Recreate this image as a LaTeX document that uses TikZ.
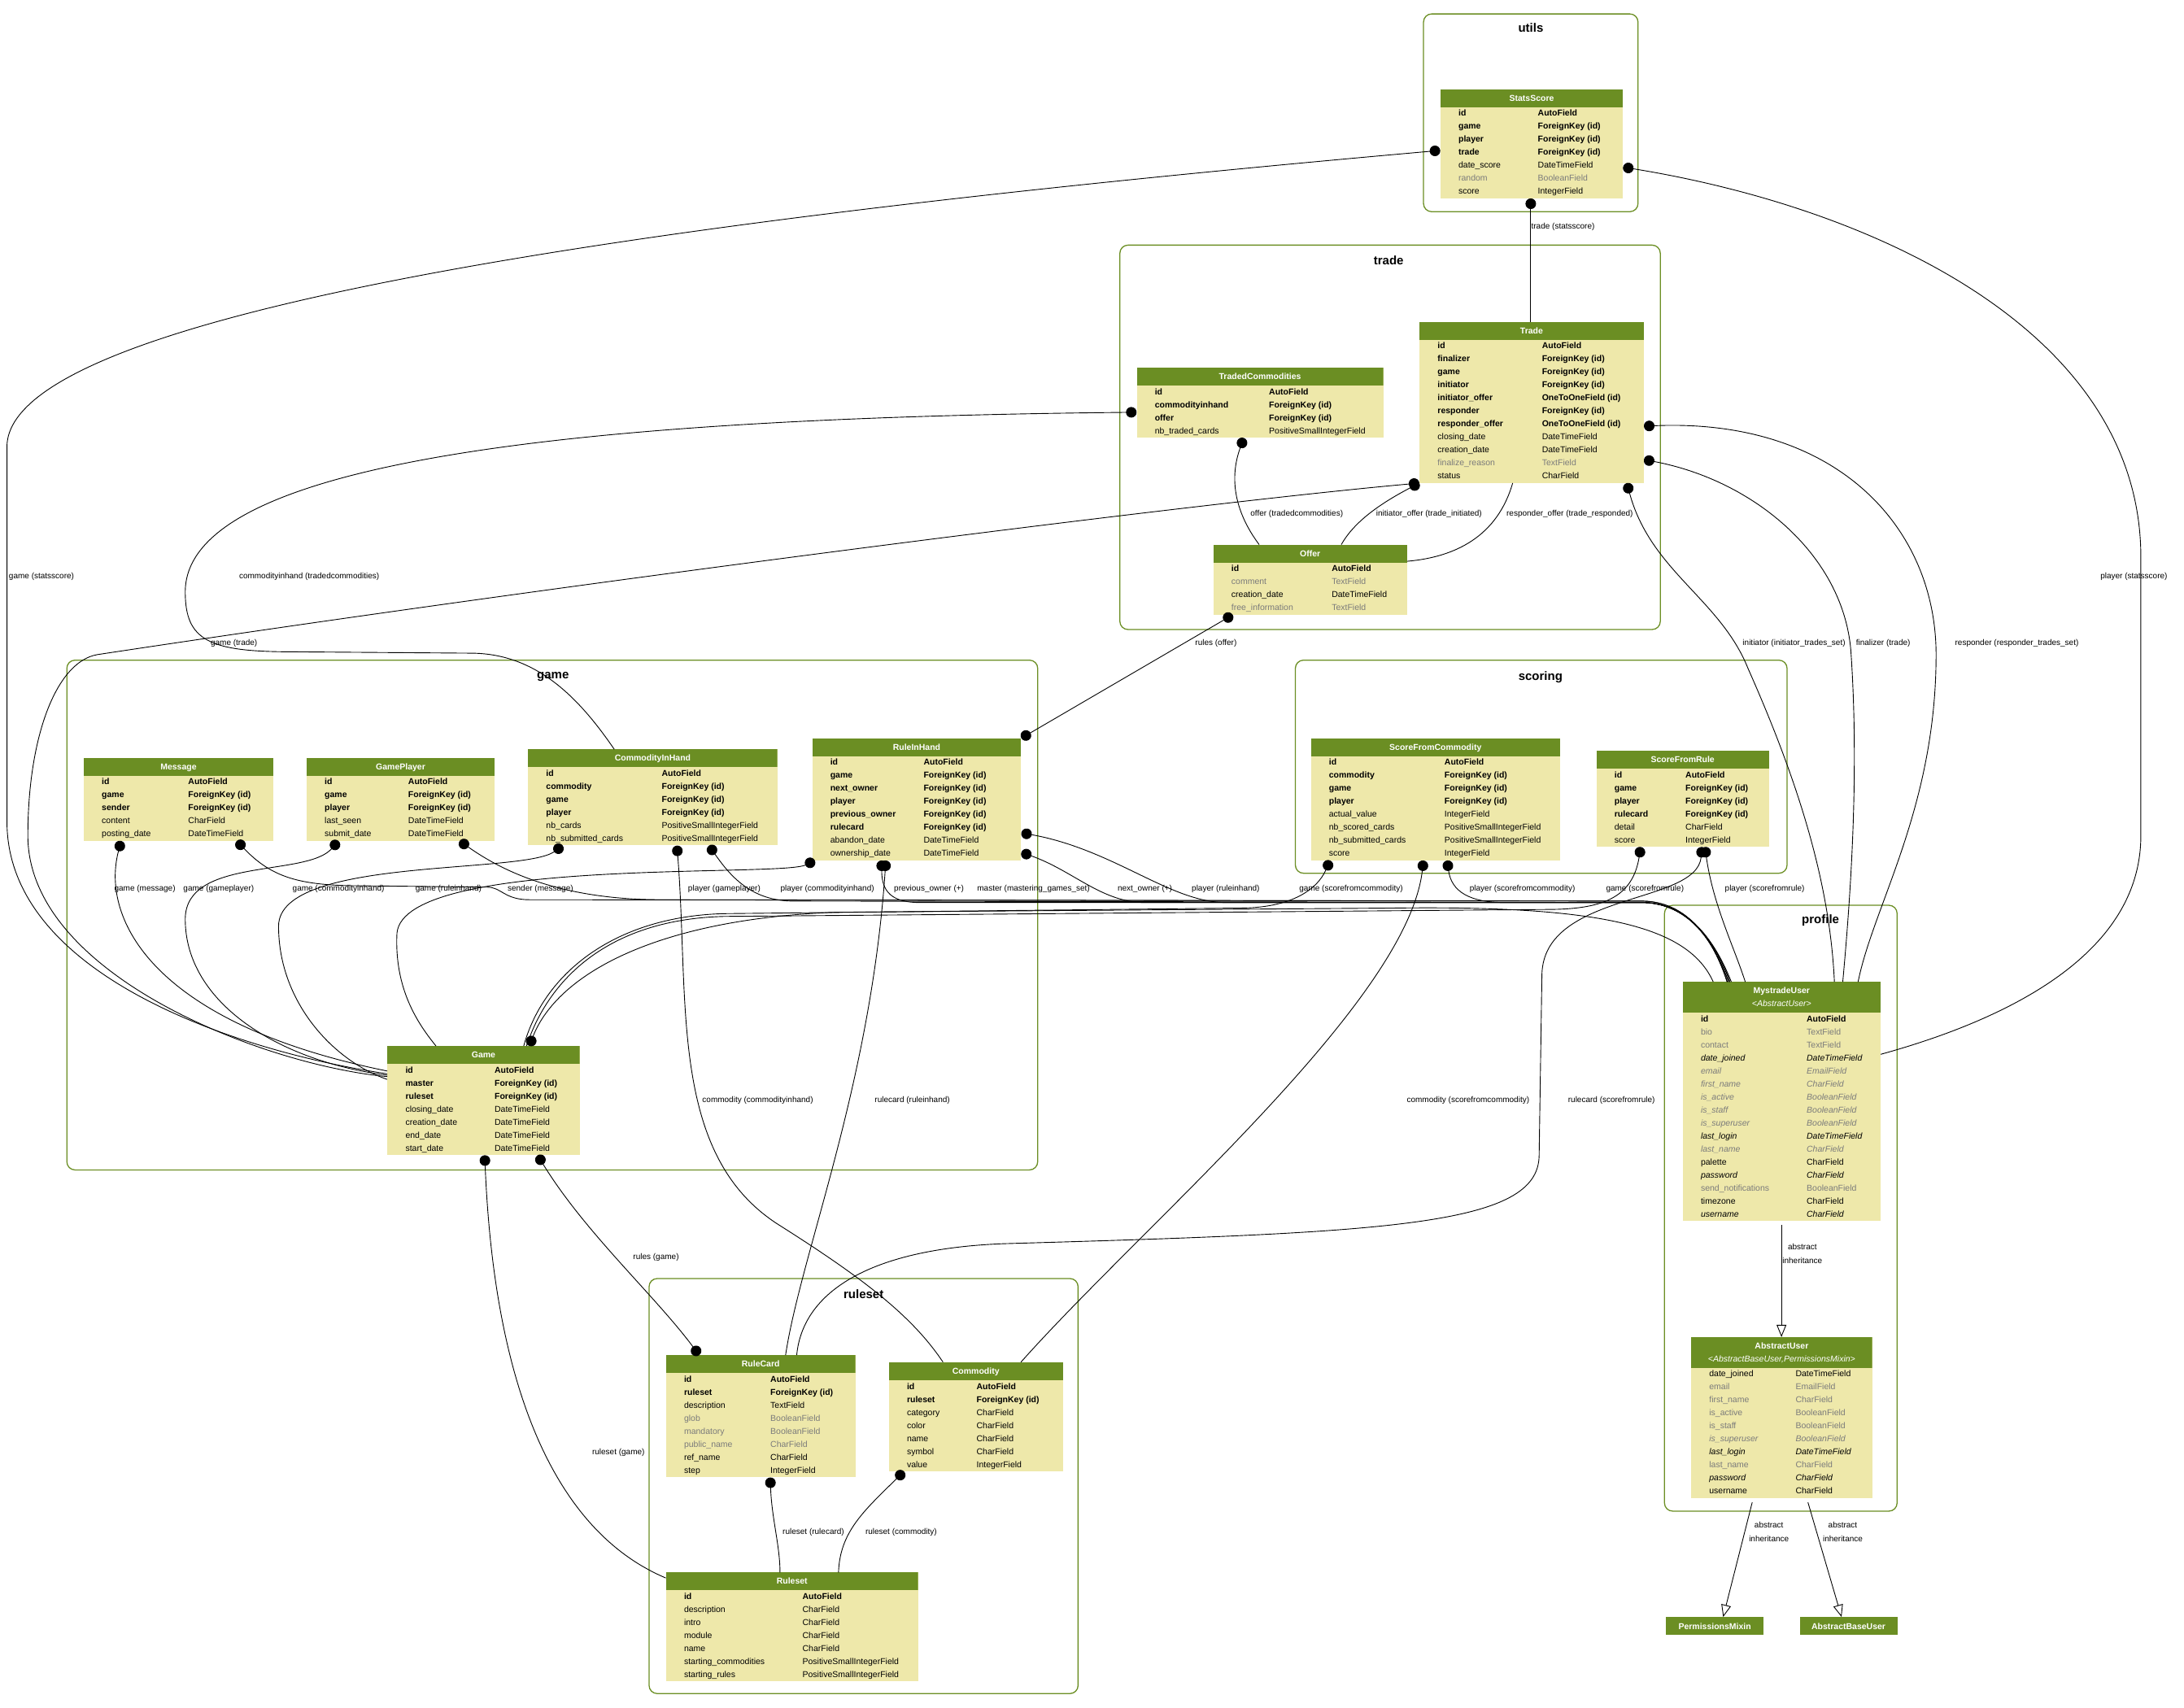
\documentclass[tikz,border=0pt]{standalone}
\usepackage{fontspec}
\setmainfont{Liberation Sans}
\usepackage{array}
\usetikzlibrary{arrows.meta,calc}

\definecolor{hdrgreen}{RGB}{107,142,35}
\definecolor{bodykhaki}{RGB}{238,232,170}
\definecolor{nullgray}{RGB}{123,123,123}

\newcommand{\rowk}[2]{\textbf{#1} & \textbf{#2}\\}
\newcommand{\rowf}[2]{#1 & #2\\}
\newcommand{\rowg}[2]{\textcolor{nullgray}{#1} & \textcolor{nullgray}{#2}\\}
\newcommand{\rowi}[2]{\textit{#1} & \textit{#2}\\}
\newcommand{\rowgi}[2]{\textcolor{nullgray}{\itshape #1} & \textcolor{nullgray}{\itshape #2}\\}
\newcommand{\modeltab}[4]{%
  \begin{tabular}{@{\hspace{22.3pt}}p{#1}@{}p{#2}@{}}
    \multicolumn{2}{@{}c@{}}{\rule[-7.6pt]{0pt}{22pt}\color{white}\bfseries #3}\\
    #4
  \end{tabular}}

\begin{document}
\begin{tikzpicture}[x=1.7124pt, y=-1.7124pt,
    model/.style={fill=bodykhaki, inner sep=0pt, anchor=north west,
      font=\fontsize{10.5}{16}\selectfont,
      path picture={\fill[hdrgreen] (path picture bounding box.north west)
        rectangle ([yshift=-#1]path picture bounding box.north east);}},
    model/.default=22pt,
    basebox/.style={fill=hdrgreen, text=white, inner sep=0pt, anchor=north west,
      minimum width=119.9pt, minimum height=22pt, font=\fontsize{10.5}{16}\selectfont\bfseries},
    cluster/.style={draw=hdrgreen, line width=1.3pt, rounded corners=10pt},
    clbl/.style={font=\fontsize{15}{18}\selectfont\bfseries},
    lbl/.style={font=\fontsize{10}{12}\selectfont, inner sep=0.5pt},
    ilbl/.style={lbl, align=center, font=\fontsize{10}{17}\selectfont},
    fkedge/.style={{Circle[length=13pt]}-, line width=0.9pt},
    mmedge/.style={{Circle[length=13pt]}-{Circle[length=13pt]}, line width=0.9pt},
    plainedge/.style={line width=0.9pt},
    inhedge/.style={-{Triangle[open,length=15pt,width=12pt]}, line width=0.9pt}
]
    \fill[white, use as bounding box] (0,0) rectangle (1568,1226);

    % app clusters
    \draw[cluster] (1022,10) rectangle (1176,152);
    \draw[cluster] (804,176) rectangle (1192,452);
    \draw[cluster] (48,474) rectangle (745,840);
    \draw[cluster] (930,474) rectangle (1283,627);
    \draw[cluster] (1195,650) rectangle (1362,1085);
    \draw[cluster] (466,918) rectangle (774,1216);
    \node[clbl] (c-utils) at (1099,20) {utils};
    \node[clbl] (c-trade) at (997,187) {trade};
    \node[clbl] (c-game) at (397,486) {game};
    \node[clbl] (c-scoring) at (1106,486) {scoring};
    \node[clbl] (c-profile) at (1307,661) {profile};
    \node[clbl] (c-ruleset) at (620,929) {ruleset};

    % models
    \node[model] (statsscore) at (1034,64) {\modeltab{97.6pt}{104.5pt}{StatsScore}{
        \rowk{id}{AutoField}
        \rowk{game}{ForeignKey (id)}
        \rowk{player}{ForeignKey (id)}
        \rowk{trade}{ForeignKey (id)}
        \rowf{date\_score}{DateTimeField}
        \rowg{random}{BooleanField}
        \rowf{score}{IntegerField}}};
    \node[model] (trade) at (1019,231) {\modeltab{128.4pt}{125pt}{Trade}{
        \rowk{id}{AutoField}
        \rowk{finalizer}{ForeignKey (id)}
        \rowk{game}{ForeignKey (id)}
        \rowk{initiator}{ForeignKey (id)}
        \rowk{initiator\_offer}{OneToOneField (id)}
        \rowk{responder}{ForeignKey (id)}
        \rowk{responder\_offer}{OneToOneField (id)}
        \rowf{closing\_date}{DateTimeField}
        \rowf{creation\_date}{DateTimeField}
        \rowg{finalize\_reason}{TextField}
        \rowf{status}{CharField}}};
    \node[model] (tradedcommodities) at (816,264) {\modeltab{140.4pt}{140.4pt}{TradedCommodities}{
        \rowk{id}{AutoField}
        \rowk{commodityinhand}{ForeignKey (id)}
        \rowk{offer}{ForeignKey (id)}
        \rowf{nb\_traded\_cards}{PositiveSmallIntegerField}}};
    \node[model] (offer) at (871,391) {\modeltab{123.3pt}{92.5pt}{Offer}{
        \rowk{id}{AutoField}
        \rowg{comment}{TextField}
        \rowf{creation\_date}{DateTimeField}
        \rowg{free\_information}{TextField}}};
    \node[model] (message) at (60,544) {\modeltab{106.2pt}{104.5pt}{Message}{
        \rowk{id}{AutoField}
        \rowk{game}{ForeignKey (id)}
        \rowk{sender}{ForeignKey (id)}
        \rowf{content}{CharField}
        \rowf{posting\_date}{DateTimeField}}};
    \node[model] (gameplayer) at (220,544) {\modeltab{102.7pt}{106.2pt}{GamePlayer}{
        \rowk{id}{AutoField}
        \rowk{game}{ForeignKey (id)}
        \rowk{player}{ForeignKey (id)}
        \rowf{last\_seen}{DateTimeField}
        \rowf{submit\_date}{DateTimeField}}};
    \node[model] (commodityinhand) at (379,538) {\modeltab{142.1pt}{142.1pt}{CommodityInHand}{
        \rowk{id}{AutoField}
        \rowk{commodity}{ForeignKey (id)}
        \rowk{game}{ForeignKey (id)}
        \rowk{player}{ForeignKey (id)}
        \rowf{nb\_cards}{PositiveSmallIntegerField}
        \rowf{nb\_submitted\_cards}{PositiveSmallIntegerField}}};
    \node[model] (ruleinhand) at (583,530) {\modeltab{114.7pt}{119.9pt}{RuleInHand}{
        \rowk{id}{AutoField}
        \rowk{game}{ForeignKey (id)}
        \rowk{next\_owner}{ForeignKey (id)}
        \rowk{player}{ForeignKey (id)}
        \rowk{previous\_owner}{ForeignKey (id)}
        \rowk{rulecard}{ForeignKey (id)}
        \rowf{abandon\_date}{DateTimeField}
        \rowf{ownership\_date}{DateTimeField}}};
    \node[model] (game) at (278,751) {\modeltab{109.6pt}{104.5pt}{Game}{
        \rowk{id}{AutoField}
        \rowk{master}{ForeignKey (id)}
        \rowk{ruleset}{ForeignKey (id)}
        \rowf{closing\_date}{DateTimeField}
        \rowf{creation\_date}{DateTimeField}
        \rowf{end\_date}{DateTimeField}
        \rowf{start\_date}{DateTimeField}}};
    \node[model] (scorefromcommodity) at (941,530) {\modeltab{142.1pt}{142.1pt}{ScoreFromCommodity}{
        \rowk{id}{AutoField}
        \rowk{commodity}{ForeignKey (id)}
        \rowk{game}{ForeignKey (id)}
        \rowk{player}{ForeignKey (id)}
        \rowf{actual\_value}{IntegerField}
        \rowf{nb\_scored\_cards}{PositiveSmallIntegerField}
        \rowf{nb\_submitted\_cards}{PositiveSmallIntegerField}
        \rowf{score}{IntegerField}}};
    \node[model] (scorefromrule) at (1146,539) {\modeltab{87.3pt}{102.7pt}{ScoreFromRule}{
        \rowk{id}{AutoField}
        \rowk{game}{ForeignKey (id)}
        \rowk{player}{ForeignKey (id)}
        \rowk{rulecard}{ForeignKey (id)}
        \rowf{detail}{CharField}
        \rowf{score}{IntegerField}}};
    \node[model=37.7pt] (mystradeuser) at (1208,705) {\modeltab{130.1pt}{90.8pt}{%
        \rule[-16.2pt]{0pt}{37.7pt}\begin{tabular}[c]{@{}c@{}}MystradeUser\\ \mdseries\itshape <AbstractUser>\end{tabular}}{
        \rowk{id}{AutoField}
        \rowg{bio}{TextField}
        \rowg{contact}{TextField}
        \rowi{date\_joined}{DateTimeField}
        \rowgi{email}{EmailField}
        \rowgi{first\_name}{CharField}
        \rowgi{is\_active}{BooleanField}
        \rowgi{is\_staff}{BooleanField}
        \rowgi{is\_superuser}{BooleanField}
        \rowi{last\_login}{DateTimeField}
        \rowgi{last\_name}{CharField}
        \rowf{palette}{CharField}
        \rowi{password}{CharField}
        \rowg{send\_notifications}{BooleanField}
        \rowf{timezone}{CharField}
        \rowi{username}{CharField}}};
    \node[model=37.7pt] (abstractuser) at (1214,960) {\modeltab{106.2pt}{94.2pt}{%
        \rule[-16.2pt]{0pt}{37.7pt}\begin{tabular}[c]{@{}c@{}}AbstractUser\\ \mdseries\itshape <AbstractBaseUser,PermissionsMixin>\end{tabular}}{
        \rowf{date\_joined}{DateTimeField}
        \rowg{email}{EmailField}
        \rowg{first\_name}{CharField}
        \rowg{is\_active}{BooleanField}
        \rowg{is\_staff}{BooleanField}
        \rowgi{is\_superuser}{BooleanField}
        \rowi{last\_login}{DateTimeField}
        \rowg{last\_name}{CharField}
        \rowi{password}{CharField}
        \rowf{username}{CharField}}};
    \node[basebox] (permissionsmixin) at (1196,1161) {PermissionsMixin};
    \node[basebox] (abstractbaseuser) at (1292,1161) {AbstractBaseUser};
    \node[model] (rulecard) at (478,973) {\modeltab{106.2pt}{104.5pt}{RuleCard}{
        \rowk{id}{AutoField}
        \rowk{ruleset}{ForeignKey (id)}
        \rowf{description}{TextField}
        \rowg{glob}{BooleanField}
        \rowg{mandatory}{BooleanField}
        \rowg{public\_name}{CharField}
        \rowf{ref\_name}{CharField}
        \rowf{step}{IntegerField}}};
    \node[model] (commodity) at (638,978) {\modeltab{85.6pt}{106.2pt}{Commodity}{
        \rowk{id}{AutoField}
        \rowk{ruleset}{ForeignKey (id)}
        \rowf{category}{CharField}
        \rowf{color}{CharField}
        \rowf{name}{CharField}
        \rowf{symbol}{CharField}
        \rowf{value}{IntegerField}}};
    \node[model] (ruleset) at (478,1129) {\modeltab{145.6pt}{142.1pt}{Ruleset}{
        \rowk{id}{AutoField}
        \rowf{description}{CharField}
        \rowf{intro}{CharField}
        \rowf{module}{CharField}
        \rowf{name}{CharField}
        \rowf{starting\_commodities}{PositiveSmallIntegerField}
        \rowf{starting\_rules}{PositiveSmallIntegerField}}};

    % relations
    \draw[fkedge] ($(statsscore.south west)+(65,0)$) -- ($(trade.north west)+(80,0)$);
    \draw[fkedge] ($(statsscore.north west)+(0,44)$) .. controls (560,150) and (8,215) .. (5,320)
        -- (5,590) .. controls (5,700) and (170,755) .. ($(game.north west)+(0,20)$);
    \draw[fkedge] ($(statsscore.north east)+(0,56)$) .. controls (1350,150) and (1537,240) .. (1537,400)
        -- (1537,600) .. controls (1537,690) and (1430,735) .. ($(mystradeuser.north east)+(0,52)$);
    \draw[fkedge] ($(trade.north east)+(0,99)$) .. controls (1260,345) and (1325,400) .. (1329,470)
        .. controls (1335,560) and (1328,650) .. ($(mystradeuser.north west)+(115,0)$);
    \draw[fkedge] ($(trade.north east)+(0,75)$) .. controls (1320,300) and (1390,380) .. (1390,470)
        .. controls (1390,580) and (1345,650) .. ($(mystradeuser.north west)+(126,0)$);
    \draw[fkedge] ($(trade.south west)+(149,0)$) .. controls (1185,410) and (1235,430) .. (1255,480)
        .. controls (1295,570) and (1314,640) .. ($(mystradeuser.north west)+(109,0)$);
    \draw[fkedge] (trade.south west) .. controls (850,362) and (400,420) .. (70,470)
        .. controls (40,475) and (20,530) .. (20,600) .. controls (20,700) and (190,765) .. ($(game.north west)+(0,22)$);
    \draw[fkedge] (trade.south west) .. controls (990,362) and (972,375) .. ($(offer.north west)+(92,0)$);
    \draw[plainedge] ($(trade.south west)+(67,0)$) .. controls (1075,385) and (1045,400) .. ($(offer.north east)+(0,12)$);
    \draw[fkedge] ($(tradedcommodities.south west)+(77,0)$) .. controls (880,350) and (892,375) .. ($(offer.north west)+(33,0)$);
    \draw[fkedge] ($(tradedcommodities.north west)+(0,32)$) .. controls (420,300) and (133,330) .. (133,425)
        .. controls (133,460) and (150,468) .. (210,468) -- (340,469)
        .. controls (385,470) and (415,500) .. ($(commodityinhand.north west)+(62,0)$);
    \draw[mmedge] ($(offer.south west)+(14,0)$) -- (ruleinhand.north east);

    \draw[fkedge] ($(message.south west)+(27,0)$) .. controls (72,660) and (110,735) .. ($(game.north west)+(0,18)$);
    \draw[fkedge] ($(gameplayer.south west)+(23,0)$) .. controls (220,630) and (133,615) .. (133,660)
        .. controls (133,720) and (200,762) .. ($(game.north west)+(0,21)$);
    \draw[fkedge] ($(commodityinhand.south west)+(25,0)$) .. controls (375,628) and (200,615) .. (200,665)
        .. controls (200,720) and (240,762) .. ($(game.north west)+(0,24)$);
    \draw[fkedge] ($(ruleinhand.south west)+(2,0)$) .. controls (560,630) and (290,615) .. (285,670)
        .. controls (283,710) and (300,735) .. ($(game.north west)+(35,0)$);

    \draw[fkedge] ($(message.south west)+(110,0)$) .. controls (195,630) and (215,636) .. (260,636) -- (350,637)
        .. controls (360,637) and (362,646) .. (380,646) -- (1180,647)
        .. controls (1215,648) and (1232,680) .. ($(mystradeuser.north west)+(32,0)$);
    \draw[fkedge] ($(gameplayer.south west)+(110,0)$) .. controls (360,625) and (400,645) .. (470,646) -- (1180,647)
        .. controls (1215,648) and (1232,680) .. ($(mystradeuser.north west)+(32,0)$);
    \draw[fkedge] ($(commodityinhand.south west)+(130,0)$) .. controls (525,630) and (540,647) .. (570,647) -- (1180,648)
        .. controls (1215,649) and (1232,680) .. ($(mystradeuser.north west)+(33,0)$);
    \draw[fkedge] ($(ruleinhand.south west)+(50,0)$) .. controls (633,640) and (640,648) .. (660,648) -- (1180,648)
        .. controls (1215,649) and (1232,680) .. ($(mystradeuser.north west)+(33,0)$);
    \draw[fkedge] ($(ruleinhand.north east)+(0,82)$) .. controls (770,625) and (790,647) .. (820,648) -- (1180,648)
        .. controls (1215,649) and (1233,680) .. ($(mystradeuser.north west)+(34,0)$);
    \draw[fkedge] ($(ruleinhand.north east)+(0,68)$) .. controls (800,610) and (840,648) .. (880,648) -- (1180,648)
        .. controls (1215,649) and (1233,680) .. ($(mystradeuser.north west)+(34,0)$);
    \draw[fkedge] ($(game.north west)+(102,0)$) .. controls (400,700) and (470,660) .. (600,655) -- (1000,652)
        .. controls (1150,650) and (1212,665) .. ($(mystradeuser.north west)+(22,0)$);
    \draw[fkedge] ($(scorefromcommodity.south west)+(98,0)$) .. controls (1042,640) and (1055,648) .. (1080,648) -- (1180,648)
        .. controls (1215,649) and (1233,680) .. ($(mystradeuser.north west)+(35,0)$);
    \draw[fkedge] ($(scorefromrule.south west)+(78,0)$) .. controls (1230,650) and (1245,680) .. ($(mystradeuser.north west)+(45,0)$);
    \draw[fkedge] ($(scorefromcommodity.south west)+(14,0)$) .. controls (945,640) and (925,652) .. (890,652) -- (520,656)
        .. controls (440,658) and (390,700) .. ($(game.north west)+(98,0)$);
    \draw[fkedge] ($(scorefromrule.south west)+(32,0)$) .. controls (1172,645) and (1150,653) .. (1110,653) -- (520,658)
        .. controls (440,660) and (395,700) .. ($(game.north west)+(100,0)$);
    \draw[fkedge] ($(scorefromrule.south west)+(76,0)$) .. controls (1218,650) and (1108,640) .. (1107,700) -- (1105,830)
        .. controls (1104,880) and (1000,885) .. (720,893) .. controls (620,897) and (576,930) .. ($(rulecard.north west)+(94,0)$);
    \draw[fkedge] ($(scorefromcommodity.south west)+(81,0)$) .. controls (1010,720) and (820,880) .. ($(commodity.north west)+(95,0)$);
    \draw[fkedge] ($(commodityinhand.south west)+(107,0)$) .. controls (495,720) and (480,830) .. (560,880)
        .. controls (620,918) and (655,945) .. ($(commodity.north west)+(39,0)$);
    \draw[fkedge] ($(ruleinhand.south west)+(53,0)$) .. controls (625,780) and (575,900) .. ($(rulecard.north west)+(86,0)$);
    \draw[mmedge] ($(game.south west)+(108,0)$) .. controls (420,885) and (470,930) .. ($(rulecard.north west)+(24,0)$);
    \draw[fkedge] ($(game.south west)+(70,0)$) .. controls (355,1000) and (400,1100) .. ($(ruleset.north west)+(0,4)$);
    \draw[fkedge] ($(rulecard.south west)+(75,0)$) .. controls (554,1090) and (560,1110) .. ($(ruleset.north west)+(82,0)$);
    \draw[fkedge] ($(commodity.south west)+(11,0)$) .. controls (620,1085) and (603,1100) .. ($(ruleset.north west)+(124,0)$);

    \draw[inhedge] ($(mystradeuser.south west)+(71,3)$) -- ($(abstractuser.north west)+(65,0)$);
    \draw[inhedge] ($(abstractuser.south west)+(44,3)$) -- ($(permissionsmixin.north)+(6,0)$);
    \draw[inhedge] ($(abstractuser.south west)+(84,3)$) -- ($(abstractbaseuser.north)+(-5,0)$);

    % relation labels
    \node[lbl, anchor=west] (lb-ss-trade) at (1099,163) {trade (statsscore)};
    \node[lbl, anchor=west] (lb-ss-game) at (6,414) {game (statsscore)};
    \node[lbl] (lb-ss-player) at (1532,414) {player (statsscore)};
    \node[lbl] (lb-tc-cih) at (222,414) {commodityinhand (tradedcommodities)};
    \node[lbl] (lb-tr-game) at (168,462) {game (trade)};
    \node[lbl] (lb-tc-offer) at (931,369) {offer (tradedcommodities)};
    \node[lbl] (lb-tr-ioffer) at (1026,369) {initiator\_offer (trade\_initiated)};
    \node[lbl] (lb-tr-roffer) at (1127,369) {responder\_offer (trade\_responded)};
    \node[lbl] (lb-of-rules) at (873,462) {rules (offer)};
    \node[lbl] (lb-tr-init) at (1288,462) {initiator (initiator\_trades\_set)};
    \node[lbl] (lb-tr-fin) at (1352,462) {finalizer (trade)};
    \node[lbl] (lb-tr-resp) at (1448,462) {responder (responder\_trades\_set)};
    \node[lbl] (lb-ms-game) at (104,638) {game (message)};
    \node[lbl] (lb-gp-game) at (157,638) {game (gameplayer)};
    \node[lbl] (lb-cih-game) at (243,638) {game (commodityinhand)};
    \node[lbl] (lb-rih-game) at (322,638) {game (ruleinhand)};
    \node[lbl] (lb-ms-sender) at (388,638) {sender (message)};
    \node[lbl] (lb-gp-player) at (520,638) {player (gameplayer)};
    \node[lbl] (lb-cih-player) at (594,638) {player (commodityinhand)};
    \node[lbl] (lb-rih-prev) at (667,638) {previous\_owner (+)};
    \node[lbl] (lb-gm-master) at (742,638) {master (mastering\_games\_set)};
    \node[lbl] (lb-rih-next) at (822,638) {next\_owner (+)};
    \node[lbl] (lb-rih-player) at (880,638) {player (ruleinhand)};
    \node[lbl] (lb-sfc-game) at (970,638) {game (scorefromcommodity)};
    \node[lbl] (lb-sfc-player) at (1093,638) {player (scorefromcommodity)};
    \node[lbl] (lb-sfr-game) at (1181,638) {game (scorefromrule)};
    \node[lbl] (lb-sfr-player) at (1267,638) {player (scorefromrule)};
    \node[lbl] (lb-cih-comm) at (544,790) {commodity (commodityinhand)};
    \node[lbl] (lb-rih-card) at (655,790) {rulecard (ruleinhand)};
    \node[lbl] (lb-sfc-comm) at (1054,790) {commodity (scorefromcommodity)};
    \node[lbl] (lb-sfr-card) at (1157,790) {rulecard (scorefromrule)};
    \node[lbl] (lb-gm-rules) at (471,903) {rules (game)};
    \node[lbl] (lb-gm-ruleset) at (444,1043) {ruleset (game)};
    \node[lbl] (lb-rc-ruleset) at (584,1100) {ruleset (rulecard)};
    \node[lbl] (lb-cm-ruleset) at (647,1100) {ruleset (commodity)};
    \node[ilbl] (lb-inh-user) at (1294,900) {abstract\\inheritance};
    \node[ilbl] (lb-inh-perm) at (1270,1100) {abstract\\inheritance};
    \node[ilbl] (lb-inh-base) at (1323,1100) {abstract\\inheritance};
\end{tikzpicture}
\end{document}
